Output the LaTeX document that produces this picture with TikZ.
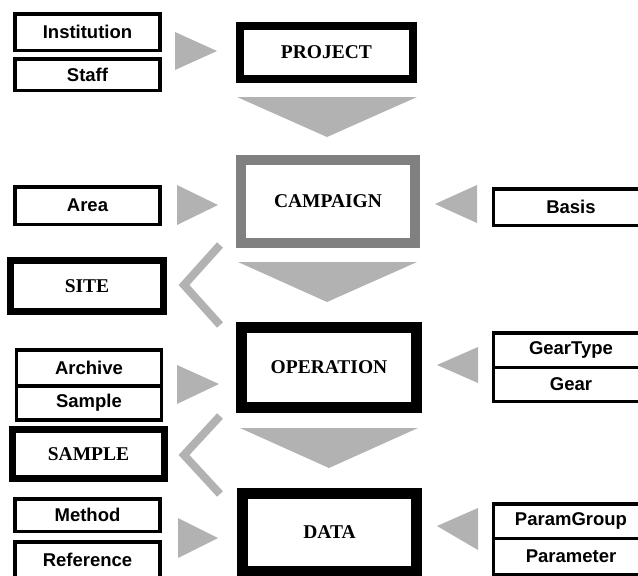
\documentclass[tikz,border=0pt]{standalone}
\usepackage{fontspec}
\setmainfont{Liberation Serif}
\newfontfamily\labelfont{Liberation Sans}
\usetikzlibrary{positioning}
\begin{document}
\begin{tikzpicture}[x=1pt, y=-1pt,
    entity/.style={draw, line width=3.5pt, inner sep=0pt, outer sep=0pt, minimum width=145pt, font=\labelfont\bfseries\fontsize{18.5}{20}\selectfont},
    mainbox/.style={draw, line width=10pt, inner sep=0pt, outer sep=0pt, font=\bfseries\fontsize{19.5}{21}\selectfont},
    flow/.style={fill=black!30},
    link/.style={draw=black!30, line width=8pt, line join=miter}
  ]

  \useasboundingbox (0,0) rectangle (638,576);
  \clip (0,0) rectangle (638,576);

  % Main entities
  \node[mainbox, line width=8pt, minimum width=173pt, minimum height=53pt] (project) at (326.5,52.5) {PROJECT};
  \node[mainbox, draw=black!50, minimum width=174pt, minimum height=83pt] (campaign) at (328,201.5) {CAMPAIGN};
  \node[mainbox, line width=11pt, minimum width=175pt, minimum height=80pt] (operation) at (329,367.5) {OPERATION};
  \node[mainbox, line width=11pt, minimum width=174pt, minimum height=78pt] (data) at (329.5,532.5) {DATA};
  \node[mainbox, line width=7pt, minimum width=153pt, minimum height=51pt] (site) at (87,286) {SITE};
  \node[mainbox, line width=7pt, minimum width=152pt, minimum height=49pt] (sample) at (88.5,454) {SAMPLE};

  % Left tables
  \node[entity, minimum height=36.5pt] (institution) at (87.5,32) {Institution};
  \node[entity, minimum height=31.5pt] (staff) at (87.5,74.5) {Staff};
  \node[entity, minimum height=37.5pt] (area) at (87.5,205.5) {Area};
  \node[entity, minimum height=36pt] (archive) at (89,368) {Archive};
  \node[entity, minimum height=34pt, below=0pt of archive] (archivesample) {Sample};
  \node[entity, minimum height=32.5pt] (method) at (87.5,515) {Method};
  \node[entity, minimum height=36.5pt] (reference) at (87.5,560) {Reference};

  % Right tables
  \node[entity, minimum width=155pt, minimum height=36.5pt] (basis) at (571,207) {Basis};
  \node[entity, minimum width=155pt, minimum height=34.5pt] (geartype) at (571,350) {GearType};
  \node[entity, minimum width=155pt, minimum height=34pt, below=0pt of geartype] (gear) {Gear};
  \node[entity, minimum width=155pt, minimum height=34.5pt] (paramgroup) at (571,521) {ParamGroup};
  \node[entity, minimum width=155pt, minimum height=36pt, below=0pt of paramgroup] (parameter) {Parameter};

  % Arrows into the main entities
  \fill[flow] (175,32) -- (217,51) -- (175,70) -- cycle;
  \fill[flow] (177,185) -- (218,205) -- (177,225) -- cycle;
  \fill[flow] (177,365) -- (219,384) -- (177,404) -- cycle;
  \fill[flow] (178,518) -- (218,538) -- (178,558) -- cycle;
  \fill[flow] (477,185) -- (435,204) -- (477,223) -- cycle;
  \fill[flow] (478,347) -- (437,365) -- (478,383) -- cycle;
  \fill[flow] (478,508) -- (437,526) -- (478,550) -- cycle;

  % Downward arrows
  \fill[flow] (237,97) -- (417,97) -- (327,137) -- cycle;
  \fill[flow] (238,262) -- (417,262) -- (327,302) -- cycle;
  \fill[flow] (240,428) -- (418,428) -- (329,468) -- cycle;

  % Open arrows to SITE and SAMPLE
  \draw[link] (220,245) -- (184,285) -- (220,325);
  \draw[link] (220,416) -- (184,455) -- (220,494);

\end{tikzpicture}
\end{document}
